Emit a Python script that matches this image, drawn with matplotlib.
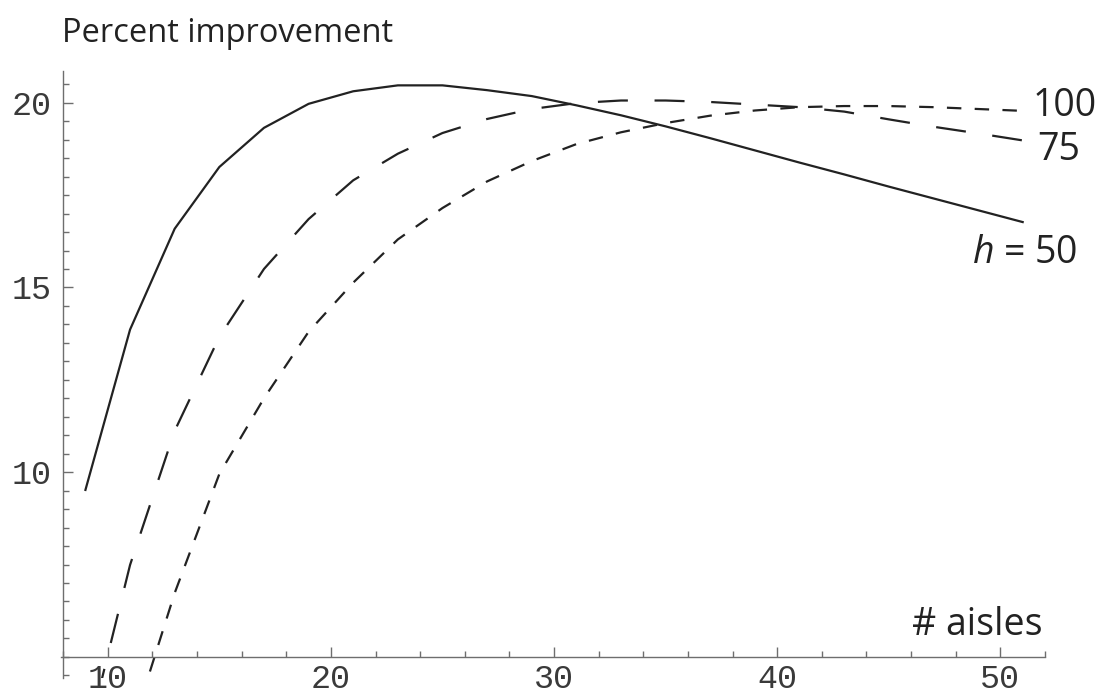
import numpy as np
import matplotlib
matplotlib.use("Agg")
import matplotlib.pyplot as plt
from matplotlib.ticker import MultipleLocator, FixedLocator

# number of aisles (odd values only)
aisles = [9, 11, 13, 15, 17, 19, 21, 23, 25, 27, 29, 31, 33, 35, 37, 39, 41, 43, 45, 47, 49, 51]

# percent improvement for each pick-list size h
h50 = [9.52, 13.86, 16.59, 18.26, 19.32, 19.97, 20.31, 20.47, 20.47, 20.34, 20.18,
       19.93, 19.66, 19.36, 19.04, 18.71, 18.38, 18.06, 17.73, 17.41, 17.09, 16.77]
h75 = [2.6, 7.49, 11.12, 13.66, 15.5, 16.85, 17.9, 18.62, 19.18, 19.56, 19.83,
       19.99, 20.06, 20.06, 20.02, 19.95, 19.88, 19.76, 19.55, 19.35, 19.17, 18.98]
h100 = [-3.2, 2.9, 6.73, 9.95, 12.0, 13.8, 15.13, 16.3, 17.15, 17.87, 18.42,
        18.88, 19.2, 19.45, 19.65, 19.79, 19.88, 19.91, 19.91, 19.88, 19.83, 19.78]

x_major = [10, 20, 30, 40, 50]
y_major = [10, 15, 20]

plt.rcParams['mathtext.fontset'] = 'custom'
plt.rcParams['mathtext.it'] = 'Open Sans:italic'
plt.rcParams['mathtext.rm'] = 'Open Sans'

fig = plt.figure(figsize=(11.03, 6.97), dpi=100)
ax = fig.add_axes([0.0552, 0.0273, 0.8922, 0.8709])

line_col = '#222222'
axis_col = '#6e6e6e'

ax.plot(aisles, h50, color=line_col, lw=1.6)
ax.plot(aisles, h75, color=line_col, lw=1.6, dashes=(13.5, 12.0))
ax.plot(aisles, h100, color=line_col, lw=1.6, dashes=(6.5, 6.0))

ax.set_xlim(7.9, 52)
ax.set_ylim(4.43, 20.86)

# Mathematica-style axes crossing at (8, 5)
for s in ['top', 'right']:
    ax.spines[s].set_visible(False)
ax.spines['left'].set_position(('data', 8))
ax.spines['bottom'].set_position(('data', 5))
for s in ['left', 'bottom']:
    ax.spines[s].set_color(axis_col)
    ax.spines[s].set_linewidth(1.0)

ax.xaxis.set_major_locator(FixedLocator(x_major))
ax.xaxis.set_minor_locator(MultipleLocator(2))
ax.yaxis.set_major_locator(FixedLocator(y_major))
ax.yaxis.set_minor_locator(MultipleLocator(0.5))
ax.tick_params(which='both', direction='in', color=axis_col, width=1.0)
ax.tick_params(which='major', length=7)
ax.tick_params(which='minor', length=4)
ax.tick_params(axis='x', which='major', pad=5)
ax.tick_params(axis='y', which='major', pad=8)
for lab in ax.get_xticklabels() + ax.get_yticklabels():
    lab.set_family('Liberation Mono')
    lab.set_fontsize(24)
    lab.set_color('#3a3a3a')

txt = dict(family='Open Sans', fontsize=27, color='#222222', clip_on=False)
ax.text(7.95, 21.64, 'Percent improvement', ha='left', va='baseline',
        **dict(txt, fontsize=23.5))
ax.text(51.88, 5.6, '# aisles', ha='right', va='baseline', **txt)
ax.text(51.43, 19.9, '100', ha='left', va='center', **txt)
ax.text(51.66, 18.72, '75', ha='left', va='center', **txt)
ax.text(53.45, 15.94, '$h$ = 50', ha='right', va='center', **txt)

fig.savefig('out.png', dpi=100)
